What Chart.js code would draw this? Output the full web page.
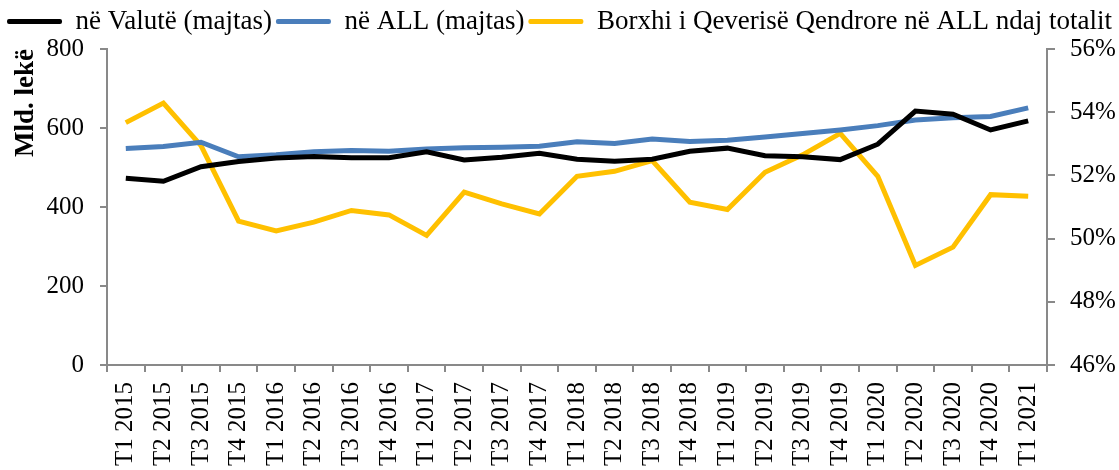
<!DOCTYPE html>
<html>
<head>
<meta charset="utf-8">
<script src="https://cdn.jsdelivr.net/npm/chart.js@4.4.0/dist/chart.umd.min.js"></script>
<style>
  html, body { margin: 0; padding: 0; background: #fff; }
  #wrap { width: 1119px; height: 470px; }
</style>
</head>
<body>
<div id="wrap"><canvas id="debtChart"></canvas></div>
<script>
// Tremujorët
const quarters = [
  'T1 2015', 'T2 2015', 'T3 2015', 'T4 2015',
  'T1 2016', 'T2 2016', 'T3 2016', 'T4 2016',
  'T1 2017', 'T2 2017', 'T3 2017', 'T4 2017',
  'T1 2018', 'T2 2018', 'T3 2018', 'T4 2018',
  'T1 2019', 'T2 2019', 'T3 2019', 'T4 2019',
  'T1 2020', 'T2 2020', 'T3 2020', 'T4 2020',
  'T1 2021'
];

// Mld. lekë (boshti majtas)
const inValute = [473, 465, 502, 515, 524, 528, 525, 525, 540, 519, 526, 536, 521, 516, 521, 541, 549, 530, 527, 520, 559, 643, 635, 595, 618];
const inALL = [548, 553, 564, 527, 532, 540, 543, 541, 547, 550, 551, 554, 565, 561, 572, 566, 569, 577, 586, 595, 606, 620, 626, 629, 651];

// % (boshti djathtas)
const shareALL = [53.67, 54.29, 52.94, 50.55, 50.24, 50.52, 50.89, 50.75, 50.10, 51.47, 51.10, 50.78, 51.97, 52.13, 52.47, 51.15, 50.92, 52.10, 52.65, 53.33, 51.97, 49.15, 49.73, 51.39, 51.34];

const leftTicks = [0, 200, 400, 600, 800];
const rightTicks = [46, 48, 50, 52, 54, 56];

const serif = 'Liberation Serif';
const axisGray = '#898989';

// Pak hapësirë shtesë poshtë legjendës
const legendGap = {
  id: 'legendGap',
  beforeLayout(chart) {
    const lg = chart.legend;
    if (lg && !lg._gapPatched) {
      const fit = lg.fit.bind(lg);
      lg.fit = function () { fit(); this.height += 4; };
      lg._gapPatched = true;
    }
  }
};

const ctx = document.getElementById('debtChart').getContext('2d');
const debtChart = new Chart(ctx, {
  type: 'line',
  data: {
    labels: quarters,
    datasets: [
      {
        label: 'në Valutë (majtas)',
        data: inValute,
        borderColor: '#000000',
        backgroundColor: '#000000',
        yAxisID: 'y'
      },
      {
        label: 'në ALL (majtas)',
        data: inALL,
        borderColor: '#4a7ebb',
        backgroundColor: '#4a7ebb',
        yAxisID: 'y'
      },
      {
        label: 'Borxhi i Qeverisë Qendrore në ALL ndaj totalit',
        data: shareALL,
        borderColor: '#ffc000',
        backgroundColor: '#ffc000',
        yAxisID: 'y1'
      }
    ]
  },
  plugins: [legendGap],
  options: {
    responsive: true,
    maintainAspectRatio: false,
    animation: false,
    layout: { padding: { top: 4, left: 0, right: 0, bottom: 0 } },
    elements: {
      line: { borderWidth: 5, tension: 0, borderCapStyle: 'butt', borderJoinStyle: 'miter' },
      point: { radius: 0, hoverRadius: 0 }
    },
    plugins: {
      tooltip: { enabled: false },
      legend: {
        display: true,
        position: 'top',
        labels: {
          color: '#000',
          font: { family: serif, size: 27 },
          boxWidth: 55,
          boxHeight: 5,
          padding: 4,
          generateLabels: function (chart) {
            const items = Chart.defaults.plugins.legend.labels.generateLabels(chart);
            items.forEach(function (it) {
              it.lineWidth = 0;
              it.fillStyle = it.strokeStyle;
              it.borderRadius = 2;
            });
            return items;
          }
        }
      }
    },
    scales: {
      x: {
        offset: true,
        grid: { display: true, offset: true, drawOnChartArea: false, tickLength: 7, color: axisGray, lineWidth: 2 },
        border: { display: true, color: axisGray, width: 2 },
        ticks: {
          color: '#000',
          font: { family: serif, size: 25 },
          minRotation: 90,
          maxRotation: 90,
          autoSkip: false,
          padding: 10
        },
        afterFit: function (scale) { scale.height = 105; }
      },
      y: {
        position: 'left',
        min: 0,
        max: 800,
        afterBuildTicks: function (scale) { scale.ticks = leftTicks.map(v => ({ value: v })); },
        grid: { display: true, drawOnChartArea: false, tickLength: 7, color: axisGray, lineWidth: 2 },
        border: { display: true, color: axisGray, width: 2 },
        ticks: {
          color: '#000',
          font: { family: serif, size: 25 },
          padding: 16
        },
        title: {
          display: true,
          text: 'Mld. lekë',
          align: 'end',
          color: '#000',
          font: { family: serif, size: 27, weight: 'bold' },
          padding: { top: 10, bottom: 0 }
        },
        afterFit: function (scale) { scale.width = 107; }
      },
      y1: {
        position: 'right',
        min: 46,
        max: 56,
        afterBuildTicks: function (scale) { scale.ticks = rightTicks.map(v => ({ value: v })); },
        grid: { display: true, drawOnChartArea: false, tickLength: 8, color: axisGray, lineWidth: 2 },
        border: { display: true, color: axisGray, width: 2 },
        ticks: {
          color: '#000',
          font: { family: serif, size: 25 },
          padding: 15,
          callback: function (v) { return v + '%'; }
        },
        afterFit: function (scale) { scale.width = 72; }
      }
    }
  }
});
</script>
</body>
</html>
